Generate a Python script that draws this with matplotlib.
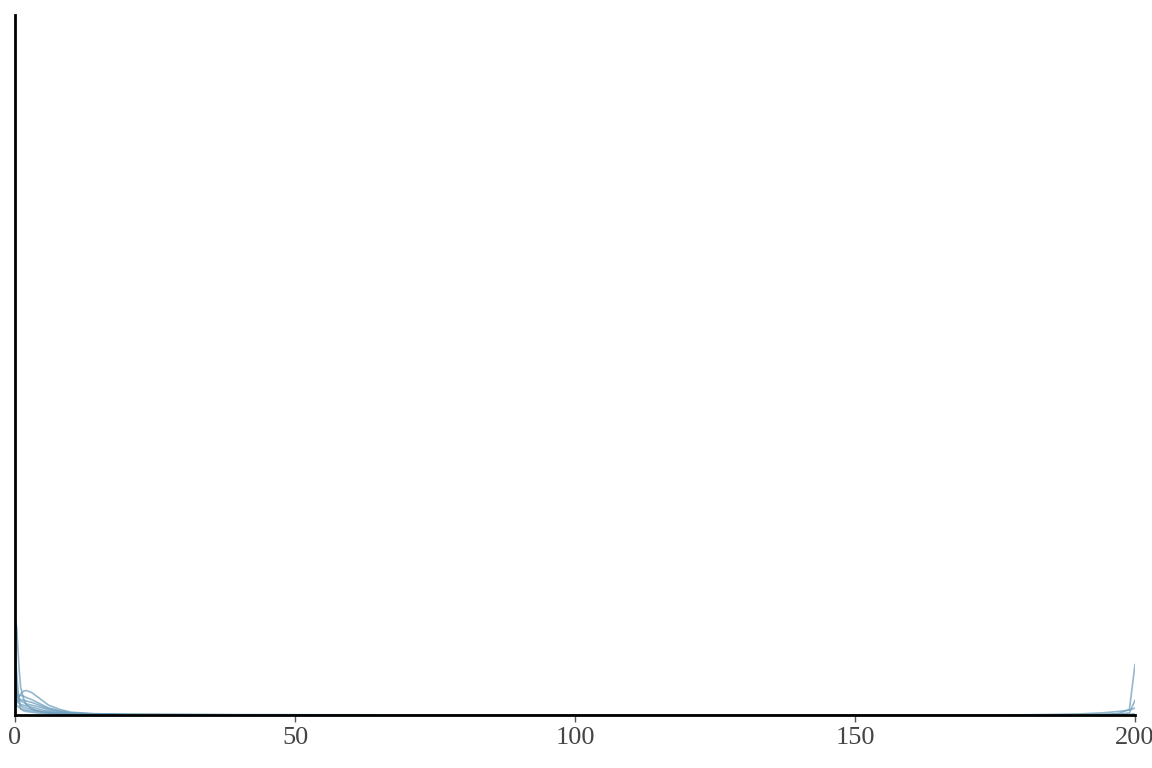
import matplotlib.pyplot as plt

# shared x grid for all density curves
x_grid = [0, 0.3, 0.7, 1, 1.5, 2, 3, 4, 5, 6, 8, 10, 14, 20, 40, 80,
          120, 160, 180, 185, 190, 194, 197, 199, 200]

# density estimates, one list per series
curves = [
    [0.140, 0.125, 0.070, 0.040, 0.024, 0.015, 0.009, 0.006, 0.004, 0.003, 0.002, 0.0012, 0.0008, 0.0005, 0.0003, 0.0002, 0.0001, 0.0001, 0.0001, 0.0002, 0.0004, 0.0008, 0.002, 0.008, 0.072],
    [0.010, 0.018, 0.026, 0.030, 0.034, 0.035, 0.032, 0.026, 0.020, 0.014, 0.008, 0.004, 0.002, 0.0008, 0.0004, 0.0002, 0.0001, 0.0001, 0.0001, 0.0001, 0.0002, 0.0004, 0.001, 0.003, 0.021],
    [0.020, 0.025, 0.028, 0.028, 0.027, 0.025, 0.022, 0.018, 0.014, 0.010, 0.006, 0.003, 0.0015, 0.0007, 0.0003, 0.0002, 0.0001, 0.0001, 0.0003, 0.0008, 0.0015, 0.003, 0.005, 0.007, 0.010],
    [0.030, 0.028, 0.024, 0.022, 0.021, 0.020, 0.018, 0.015, 0.012, 0.009, 0.005, 0.003, 0.0012, 0.0006, 0.0003, 0.0001, 0.0001, 0.0001, 0.0001, 0.0001, 0.0002, 0.0003, 0.0005, 0.0008, 0.0012],
    [0.045, 0.032, 0.023, 0.020, 0.018, 0.016, 0.014, 0.012, 0.010, 0.007, 0.004, 0.002, 0.001, 0.0005, 0.0002, 0.0001, 0.0001, 0.0001, 0.0001, 0.0001, 0.0001, 0.0002, 0.0003, 0.0005, 0.0008],
    [0.025, 0.020, 0.017, 0.015, 0.014, 0.013, 0.011, 0.009, 0.007, 0.005, 0.003, 0.0015, 0.0008, 0.0004, 0.0002, 0.0001, 0.0001, 0.0001, 0.0001, 0.0001, 0.0001, 0.0001, 0.0002, 0.0003, 0.0004],
    [0.060, 0.040, 0.020, 0.013, 0.011, 0.010, 0.008, 0.006, 0.005, 0.004, 0.002, 0.0012, 0.0006, 0.0003, 0.0001, 0.0001, 0.0001, 0.0001, 0.0001, 0.0001, 0.0001, 0.0001, 0.0001, 0.0002, 0.0003],
    [0.018, 0.014, 0.011, 0.009, 0.008, 0.007, 0.006, 0.005, 0.004, 0.003, 0.0015, 0.0008, 0.0004, 0.0002, 0.0001, 0.0001, 0.0001, 0.0001, 0.0001, 0.0001, 0.0001, 0.0001, 0.0001, 0.0001, 0.0002],
    [0.090, 0.060, 0.020, 0.009, 0.006, 0.005, 0.004, 0.003, 0.0025, 0.002, 0.001, 0.0006, 0.0003, 0.0002, 0.0001, 0.0001, 0.0001, 0.0001, 0.0001, 0.0001, 0.0001, 0.0001, 0.0001, 0.0001, 0.0001],
]

x_ticks = [0, 50, 100, 150, 200]

fig = plt.figure(figsize=(11.52, 7.68), dpi=100)
ax = fig.add_axes([15 / 1152, 53 / 768, 1120 / 1152, 700 / 768])

for ys in curves:
    ax.plot(x_grid, ys, color='#6f9fbd', alpha=0.75, linewidth=1.2)

ax.set_xlim(0, 200)
ax.set_ylim(0, 1)
ax.set_xticks(x_ticks)
ax.set_xticklabels([str(t) for t in x_ticks], family='Liberation Serif',
                   fontsize=19, color='#444444')
ax.set_yticks([])
ax.tick_params(axis='x', length=5, width=1, color='#555555', pad=4)
for side in ('top', 'right'):
    ax.spines[side].set_visible(False)
for side in ('left', 'bottom'):
    ax.spines[side].set_linewidth(2)
    ax.spines[side].set_color('black')

fig.savefig('out.png', dpi=100)
